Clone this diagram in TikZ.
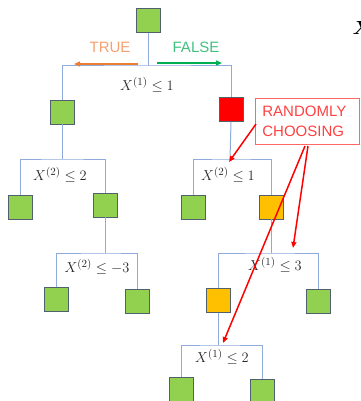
\documentclass[tikz,border=0pt]{standalone}
\usepackage{fontspec}
\setsansfont{Liberation Sans}
\usetikzlibrary{arrows.meta}
\definecolor{leafgreen}{HTML}{92D050}
\definecolor{pickred}{HTML}{FF0000}
\definecolor{pickorange}{HTML}{FFC000}
\definecolor{boxline}{HTML}{50606E}
\definecolor{treeline}{HTML}{8FAADC}
\definecolor{trueorange}{HTML}{ED7D31}
\definecolor{truetext}{HTML}{F4A070}
\definecolor{falsegreen}{HTML}{00B050}
\definecolor{falsetext}{HTML}{40C080}
\definecolor{notered}{HTML}{FF4040}
\begin{document}
\begin{tikzpicture}[x=1pt,y=-1pt,
  leaf/.style={draw=boxline, line width=0.9pt, fill=leafgreen, minimum size=24pt, inner sep=0pt},
  redleaf/.style={leaf, fill=pickred},
  orangeleaf/.style={leaf, fill=pickorange},
  branch/.style={draw=treeline, line width=1pt},
  cond/.style={font=\fontsize{15.5}{17}\selectfont, text=black!85, inner sep=0pt},
  tag/.style={font=\sffamily\fontsize{15}{17}\selectfont, inner sep=0pt},
  pointer/.style={draw=pickred, line width=1.5pt, -{Triangle[length=6pt,width=5pt]}},
  dirarrow/.style={line width=1.4pt, -{Triangle[length=6pt,width=5pt]}},
  edgeletter/.style={anchor=base west, inner sep=0pt, font=\fontsize{19}{19}\selectfont\bfseries\itshape}]
\useasboundingbox (0,0) rectangle (360,401);

% nodes of the tree
\node[leaf] (root) at (148,20.5) {};
\node[leaf] (a) at (62,112) {};
\node[redleaf] (b) at (231,109.5) {};
\node[leaf] (aa) at (20,207) {};
\node[leaf] (ab) at (105,205) {};
\node[leaf] (ba) at (193,207) {};
\node[orangeleaf] (bb) at (271,207) {};
\node[leaf] (aba) at (56,299.5) {};
\node[leaf] (abb) at (137,301) {};
\node[orangeleaf] (bba) at (218,300.5) {};
\node[leaf] (bbb) at (318,301) {};
\node[leaf] (bbaa) at (181,389) {};
\node[leaf] (bbab) at (262,391) {};

% split points
\coordinate (s0) at (148,66);
\coordinate (s1) at (62,159);
\coordinate (s2) at (230,159);
\coordinate (s3) at (105,253);
\coordinate (s4) at (271,253);
\coordinate (s5) at (218,345);

% branches
\draw[branch] (root.south) -- (s0);
\draw[branch] (a.north) |- (s0) -| (b.north);
\draw[branch] (a.south) -- (s1);
\draw[branch] (aa.north) |- (s1) -| (ab.north);
\draw[branch] (b.south) -- (s2);
\draw[branch] (ba.north) |- (s2) -| (bb.north);
\draw[branch] (ab.south) -- (s3);
\draw[branch] (aba.north) |- (s3) -| (abb.north);
\draw[branch] (bb.south) -- (s4);
\draw[branch] (bba.north) |- (s4) -| (bbb.north);
\draw[branch] (bba.south) -- (s5);
\draw[branch] (bbaa.north) |- (s5) -| (bbab.north);

% split conditions
\node[cond] (c0) at (147,85) {$X^{(1)}\leq 1$};
\node[cond] (c1) at (60,175) {$X^{(2)}\leq 2$};
\node[cond] (c2) at (228,175) {$X^{(2)}\leq 1$};
\node[cond] (c3) at (97,267) {$X^{(2)}\leq -3$};
\node[cond] (c4) at (275,265) {$X^{(1)}\leq 3$};
\node[cond] (c5) at (222,357) {$X^{(1)}\leq 2$};

% direction of the branches
\node[tag, text=truetext] (t) at (110,47) {TRUE};
\node[tag, text=falsetext] (f) at (196,47) {FALSE};
\coordinate (tfrom) at (138,64);
\coordinate (tto) at (74,64);
\coordinate (ffrom) at (157,63);
\coordinate (fto) at (222,63);
\draw[dirarrow, draw=trueorange, fill=trueorange] (tfrom) -- (tto);
\draw[dirarrow, draw=falsegreen, fill=falsegreen] (ffrom) -- (fto);

% random choice note
\node[draw=notered!80, line width=0.8pt, fill=white, anchor=north west,
      font=\sffamily\fontsize{15}{19.5}\selectfont, text=notered,
      align=left, text width=90pt, inner xsep=7pt, inner ysep=8pt] (rand) at (255,98)
      {RANDOMLY\\CHOOSING};
\coordinate (p1) at (256,124);
\coordinate (p2) at (308,146);
\coordinate (p3) at (305,146);
\coordinate (q1) at (229,162);
\coordinate (q2) at (293,248);
\coordinate (q3) at (223,343);
\draw[pointer] (p1) -- (q1);
\draw[pointer] (p2) -- (q2);
\draw[pointer] (p3) -- (q3);

% bold X at the edge
\node[edgeletter] (bx) at (352,35) {X};
\end{tikzpicture}
\end{document}
